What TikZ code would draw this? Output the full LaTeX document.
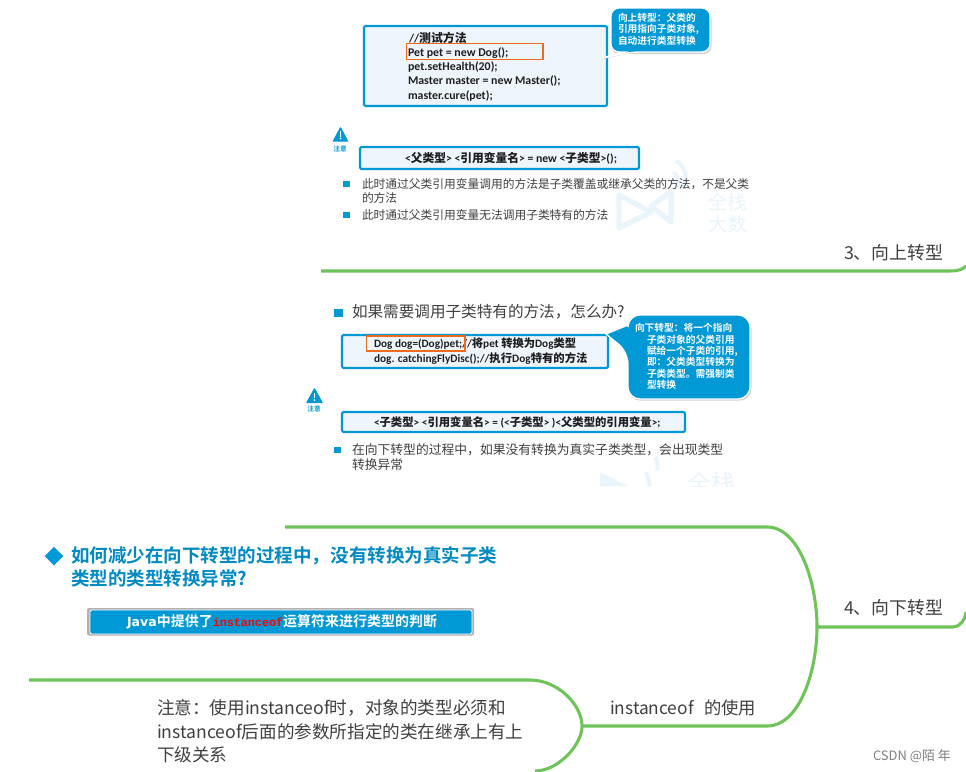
\documentclass[tikz,border=0pt]{standalone}
\usepackage{fontspec}
\setmainfont{Carlito}
\newfontfamily\cjk{Noto Sans CJK SC}
\newfontfamily\cjkb{Noto Sans CJK SC Bold}
\newfontfamily\cjkl{Noto Sans CJK SC}
\newfontfamily\monof{Liberation Mono}[BoldFont=Liberation Mono Bold]
\newfontfamily\djv{DejaVu Sans}[BoldFont=DejaVu Sans Bold]
\usetikzlibrary{shapes.geometric,calc}
\definecolor{blu}{HTML}{0099D6}
\definecolor{lightb}{HTML}{EEF5FC}
\definecolor{grn}{HTML}{6EC359}
\definecolor{org}{HTML}{EC6B1F}
\definecolor{ink}{HTML}{1F1F1F}
\definecolor{txtg}{HTML}{404040}
\definecolor{wm}{HTML}{E9F5FB}
\tikzset{
  x=0.75pt,y=-0.75pt,
  lbl/.style={anchor=west,inner sep=0pt,outer sep=0pt,align=left},
  codebox/.style={draw=blu,fill=lightb,line width=1.6pt,rounded corners=1pt},
  orangebox/.style={draw=org,line width=1pt},
  bulletsq/.style={fill=blu,draw=none,minimum size=4.6pt,inner sep=0pt},
  callout/.style={fill=blu,draw=white,line width=1pt},
  branch/.style={draw=grn,line width=2.3pt,line cap=butt},
  code/.style={lbl,font=\bfseries\fontsize{8.9}{10.5}\selectfont,text=ink},
  body/.style={lbl,font=\cjk\fontsize{8.8}{11}\selectfont,text=txtg},
  calltext/.style={lbl,font=\cjkb\fontsize{7.3}{8.6}\selectfont,text=white},
  maptext/.style={lbl,font=\cjkl\fontsize{13.2}{17.5}\selectfont,text=txtg},
  wmtext/.style={lbl,font=\cjk\fontsize{14.5}{21}\selectfont,text=wm},
  warntext/.style={inner sep=0pt,font=\cjkb\fontsize{5}{6}\selectfont,text=blu},
  warn/.style={fill=blu,draw=blu,line width=1pt,line join=round},
}
\begin{document}
\begin{tikzpicture}
\useasboundingbox (0,0) rectangle (966,771);
\fill[white] (0,0) rectangle (966,771);

% watermarks
\begin{scope}
\clip (600,150) rectangle (755,232);
\draw[wm,line width=4pt,line join=round] (619,195)--(619,228)--(651,212)--cycle;
\draw[wm,line width=4pt,line join=round] (671,192)--(671,222)--(651,206)--cycle;
\draw[wm,line width=3pt] (676,161) arc (-60:30:20);
\draw[wm,line width=3pt] (673,172) arc (-60:30:11);
\node[wmtext] (wmA) at (708,202) {全栈};
\node[wmtext] (wmB) at (708,224) {大数};
\end{scope}
\begin{scope}
\clip (590,455) rectangle (756,486);
\fill[wm] (600,472)--(600,486)--(628,486)--cycle;
\draw[wm,line width=3pt] (650,486)--(646,472);
\draw[wm,line width=3pt] (655,457) arc (-30:10:20);
\node[wmtext,font=\cjk\fontsize{18}{21}\selectfont] (wmC) at (687,483) {全栈};
\end{scope}

% top code box
\draw[codebox] (364,26) rectangle (607,106);
\node[code] (c1) at (409,38) {//\cjkb 测试方法};
\node[code] (c2) at (408,53) {Pet pet = new Dog();};
\node[code] (c3) at (408,67) {pet.setHealth(20);};
\node[code] (c4) at (408,81) {Master master = new Master();};
\node[code] (c5) at (408,96) {master.cure(pet);};
\draw[orangebox] (406.5,43.5) rectangle (543,59.5);

% callout 1
\fill[black!18,rounded corners=6pt] (611,10) rectangle (711.5,54);
\fill[black!18] (601,59.5) -- (626,54) -- (624,51) -- cycle;
\draw[callout,rounded corners=6pt] (611,8) -- (710,8) -- (710,52) -- (632,52) [sharp corners] -- (602,58) -- (624,52) [rounded corners=6pt] -- (611,52) -- cycle;
\node[calltext] (ca1) at (618,18) {向上转型：父类的};
\node[calltext] (ca2) at (618,29.5) {引用指向子类对象,};
\node[calltext] (ca3) at (618,41) {自动进行类型转换};

% warn 1
\draw[warn] (340.5,128) -- (347.5,141) -- (333.5,141) -- cycle;
\fill[white] (339.7,131) rectangle (341.3,136.5);
\fill[white] (340.5,138.5) circle (1);
\node[warntext] (w1) at (340,149) {注意};

% formula box 1
\draw[codebox] (360,147) rectangle (639,169);
\node[lbl,font=\bfseries\fontsize{8.8}{10}\selectfont,text=ink] (f1) at (405,158) {<\cjkb 父类型\rmfamily\bfseries> <\cjkb 引用变量名\rmfamily\bfseries> = new <\cjkb 子类型\rmfamily\bfseries>();};

% bullets 1
\node[bulletsq] (b1) at (346.5,184) {};
\node[body] (b1t) at (362,184.5) {此时通过父类引用变量调用的方法是子类覆盖或继承父类的方法，不是父类};
\node[body] (b1u) at (362,198) {的方法};
\node[bulletsq] (b2) at (346.5,215) {};
\node[body] (b2t) at (362,215) {此时通过父类引用变量无法调用子类特有的方法};

% branch 3
\coordinate (g3a) at (321,271);
\coordinate (g3b) at (966,266);
\draw[branch] (g3a) -- (950,271) .. controls (957,271) and (962,270) .. (g3b);
\node[maptext,font=\cjkl\fontsize{13.4}{17.5}\selectfont] (m3) at (844,253) {3、向上转型};

% section 2
\node[bulletsq,minimum size=6.5pt] (b3) at (338.5,313) {};
\node[lbl,font=\cjk\fontsize{11.7}{15}\selectfont,text=txtg] (q2) at (352,312) {如果需要调用子类特有的方法，怎么办?};
\draw[codebox] (342,335) rectangle (608,368);
\node[lbl,font=\bfseries\fontsize{8.45}{10}\selectfont,text=ink] (d1) at (374,344) {Dog dog=(Dog)pet;//\cjkb 将\rmfamily\bfseries pet \cjkb 转换为\rmfamily\bfseries Dog\cjkb 类型};
\node[lbl,font=\bfseries\fontsize{8.5}{10}\selectfont,text=ink] (d2) at (374,358.5) {dog. catchingFlyDisc();//\cjkb 执行\rmfamily\bfseries Dog\cjkb 特有的方法};
\draw[orangebox] (366.5,336) rectangle (465,351);

% callout 2
\fill[black!18,rounded corners=9pt] (628,317) rectangle (751.5,400.5);
\draw[callout,rounded corners=9pt] (628,315) -- (750,315) -- (750,399) -- (628,399) -- (628,352) [sharp corners] -- (606,334) -- (628,325) [rounded corners=9pt] -- cycle;
\node[calltext] (cb1) at (635,328) {向下转型：将一个指向};
\node[calltext] (cb2) at (647,339.5) {子类对象的父类引用};
\node[calltext] (cb3) at (647,351) {赋给一个子类的引用,};
\node[calltext] (cb4) at (647,362) {即：父类类型转换为};
\node[calltext] (cb5) at (647,373.5) {子类类型。需强制类};
\node[calltext] (cb6) at (647,385) {型转换};

% warn 2
\draw[warn] (314.5,389) -- (322,402.5) -- (307,402.5) -- cycle;
\fill[white] (313.7,392.5) rectangle (315.3,398);
\fill[white] (314.5,400) circle (1);
\node[warntext] (w2) at (314,409) {注意};

% formula box 2
\draw[codebox] (342,412) rectangle (685,432);
\node[lbl,font=\bfseries\fontsize{8.5}{10}\selectfont,text=ink] (f2) at (374,422) {<\cjkb 子类型\rmfamily\bfseries> <\cjkb 引用变量名\rmfamily\bfseries> = (<\cjkb 子类型\rmfamily\bfseries> )<\cjkb 父类型的引用变量\rmfamily\bfseries>;};

\node[bulletsq] (b4) at (337.5,450) {};
\node[lbl,font=\cjk\fontsize{9.6}{11}\selectfont,text=txtg] (b4t) at (352,450) {在向下转型的过程中，如果没有转换为真实子类类型，会出现类型};
\node[lbl,font=\cjk\fontsize{9.6}{11}\selectfont,text=txtg] (b4u) at (352,465) {转换异常};

% branches 4
\coordinate (g4top) at (285,527);
\coordinate (g4mid) at (817,627);
\coordinate (g4bot) at (582,726);
\coordinate (g4end) at (966,612);
\draw[branch] (g4top) -- (767,527) .. controls (800,527) and (817,585) .. (g4mid)
  .. controls (817,670) and (800,726) .. (767,726) -- (g4bot);
\draw[branch] (g4mid) -- (953,627) .. controls (960,627) and (965,620) .. (g4end);
\coordinate (g5top) at (29,680);
\coordinate (g5bot) at (535,771);
\draw[branch] (g5top) -- (530,680) .. controls (558,680) and (582,705) .. (g4bot)
  .. controls (582,745) and (558,771) .. (g5bot);

\node[maptext,font=\cjkl\fontsize{13.4}{17.5}\selectfont] (m4) at (844,608) {4、向下转型};
\node[maptext,font=\cjkl\fontsize{13}{17.5}\selectfont] (m5) at (610,708) {instanceof\hspace{0.6em}的使用};

% heading
\node[diamond,fill=blu,draw=none,minimum width=14bp,minimum height=14bp,inner sep=0pt] (dm) at (54,556) {};
\node[lbl,font=\cjkb\fontsize{13.9}{16}\selectfont,text=blu!90!black] (h1) at (71,556) {如何减少在向下转型的过程中，没有转换为真实子类};
\node[lbl,font=\cjkb\fontsize{13.9}{16}\selectfont,text=blu!90!black] (h2) at (71,578) {类型的类型转换异常?};

% button
\fill[black!30,rounded corners=1.5pt] (87,608) rectangle (474,635.5);
\draw[fill=blu,draw=white,line width=.6pt,rounded corners=1.5pt] (90,610) rectangle (472,634);
\node[lbl,font=\fontsize{10.5}{11}\selectfont,text=white] (bt) at (127,622) {{\djv\bfseries\fontsize{9.4}{11}\selectfont Java}\cjkb 中提供了{\monof\bfseries\fontsize{8.8}{11}\selectfont\textcolor{red}{instanceof}}\cjkb 运算符来进行类型的判断};

% note
\node[maptext] (n1) at (157,708) {注意：使用instanceof时，对象的类型必须和};
\node[maptext] (n2) at (157,732) {instanceof后面的参数所指定的类在继承上有上};
\node[maptext] (n3) at (157,755) {下级关系};

\node[lbl,font=\cjk\fontsize{9.7}{11}\selectfont,text=black!50] (csdn) at (873,756) {CSDN @陌 年};
\end{tikzpicture}
\end{document}
